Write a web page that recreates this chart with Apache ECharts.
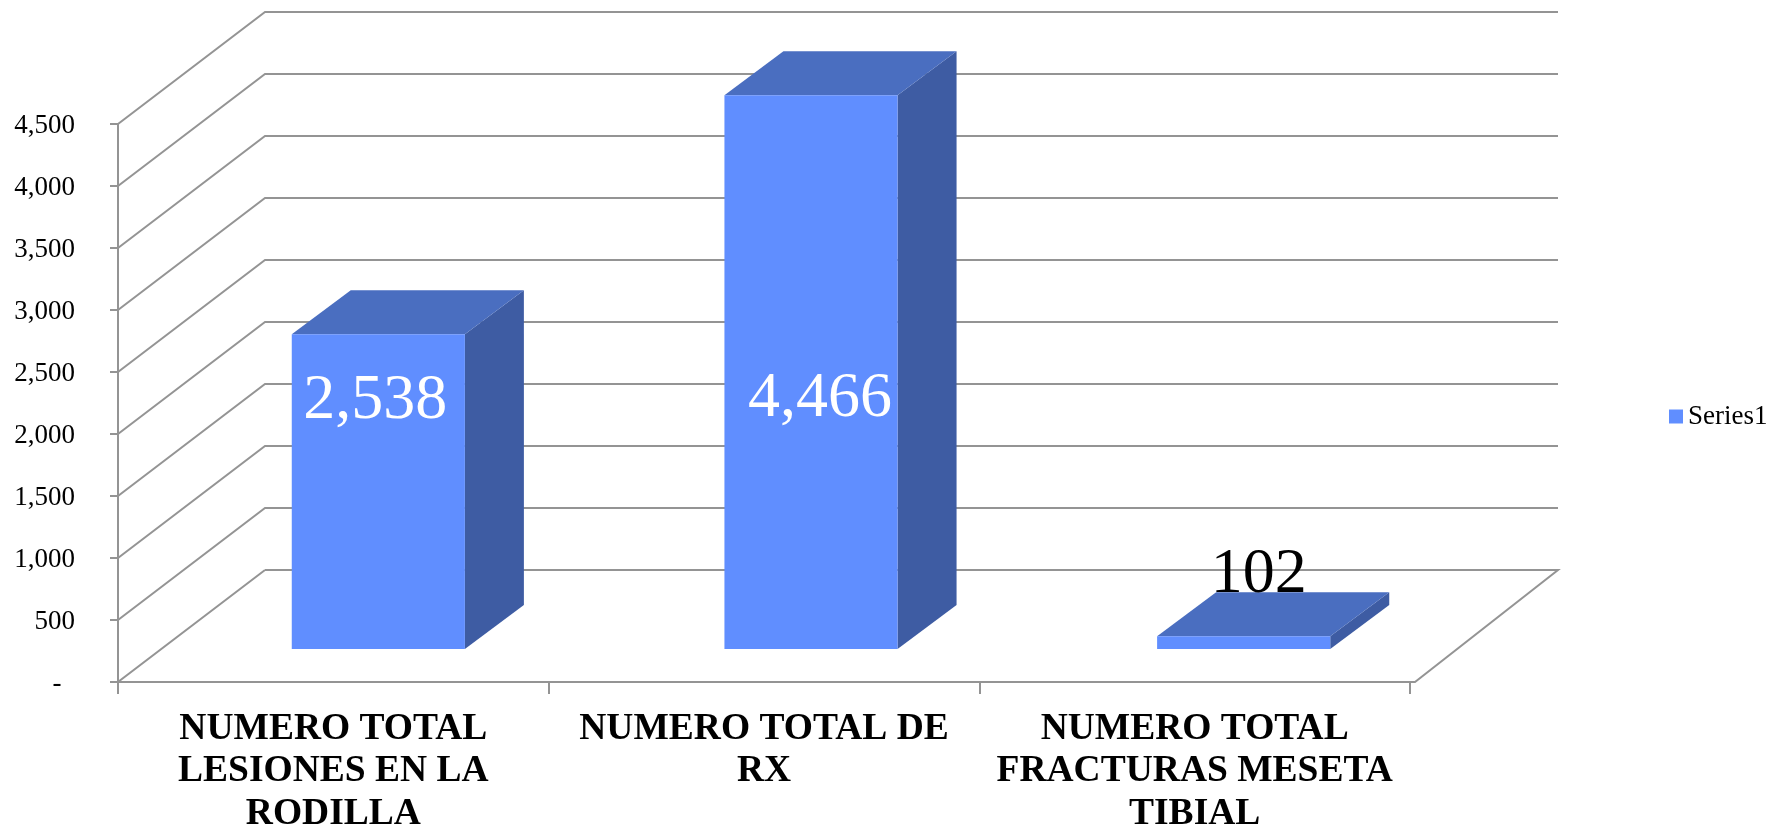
<!DOCTYPE html>
<html>
<head>
<meta charset="utf-8">
<style>html,body{margin:0;padding:0;background:#fff}#chart{width:1783px;height:827px}</style>
<script src="https://cdn.jsdelivr.net/npm/echarts@6/dist/echarts.min.js"></script>
</head>
<body>
<div id="chart"></div>
<script>
const categories = ['NUMERO TOTAL\nLESIONES EN LA\nRODILLA', 'NUMERO TOTAL DE\nRX', 'NUMERO TOTAL\nFRACTURAS MESETA\nTIBIAL'];
const seriesName = 'Series1';
const seriesValues = [2538, 4466, 102];
const gridTicks = [0, 500, 1000, 1500, 2000, 2500, 3000, 3500, 4000, 4500];

// 3D projection, in pixels
const WALL_DX = 147, WALL_DY = -112;   // front of floor -> back wall
const BAR_FRONT_DX = 45, BAR_FRONT_DY = -33; // front of floor -> bar front face
const BAR_DRIFT = 2;                   // extra horizontal shift per category
const BAR_DX = 59, BAR_DY = -44;       // bar depth
const FLOOR_RIGHT_EXTRA = 5;
const LABEL_NUDGE = [[-3, 67], [9, 304], [15, -61]]; // label centre relative to bar top-front centre
const SERIF = '"Liberation Serif","Times New Roman",serif';
const GRID_COLOR = '#949494';
const LINE_W = 2;
const FRONT = '#608eff', TOP = '#4a6ec0', SIDE = '#3e5ca3';

function fmt(v) { return v === 0 ? '-\u00a0\u00a0' : v.toLocaleString('en-US'); }

function renderGrid(params, api) {
  const v = api.value(0);
  const p = api.coord([0, v]);
  const sys = params.coordSys;
  const x0 = sys.x, xr = sys.x + sys.width, y = p[1];
  const line = v === 0
    ? [[x0 + WALL_DX, y + WALL_DY], [x0, y], [xr + FLOOR_RIGHT_EXTRA, y], [xr + FLOOR_RIGHT_EXTRA + 143, y + WALL_DY], [x0 + WALL_DX, y + WALL_DY]]
    : [[x0, y], [x0 + WALL_DX, y + WALL_DY], [xr + FLOOR_RIGHT_EXTRA + 143, y + WALL_DY]];
  return {
    type: 'polyline',
    shape: { points: line },
    style: { stroke: GRID_COLOR, lineWidth: LINE_W, fill: 'none' },
    silent: true
  };
}

function renderBar(params, api) {
  const i = api.value(0), v = api.value(1);
  const top = api.coord([i, v]), base = api.coord([i, 0]);
  const w = api.size([1, 0])[0] * 0.402;
  const cx = top[0] + BAR_FRONT_DX + i * BAR_DRIFT;
  const l = cx - w / 2, r = cx + w / 2;
  const t = top[1] + BAR_FRONT_DY, b = base[1] + BAR_FRONT_DY;
  const nudge = LABEL_NUDGE[i];
  const isLight = v > 1000;
  return {
    type: 'group',
    children: [
      { type: 'polygon', shape: { points: [[r, t], [r + BAR_DX, t + BAR_DY], [r + BAR_DX, b + BAR_DY], [r, b]] }, style: { fill: SIDE } },
      { type: 'polygon', shape: { points: [[l, t], [l + BAR_DX, t + BAR_DY], [r + BAR_DX, t + BAR_DY], [r, t]] }, style: { fill: TOP } },
      { type: 'rect', shape: { x: l, y: t, width: w, height: b - t }, style: { fill: FRONT } },
      { type: 'text', x: cx + nudge[0], y: t + nudge[1], style: {
          text: fmt(v), fill: isLight ? '#ffffff' : '#000000',
          font: '64px ' + SERIF, align: 'center', verticalAlign: 'middle' } }
    ]
  };
}

const chart = echarts.init(document.getElementById('chart'), null, { renderer: 'canvas' });
chart.setOption({
  animation: false,
  backgroundColor: '#ffffff',
  grid: { left: 118, top: 124, width: 1292, height: 558, outerBoundsMode: 'none' },
  legend: {
    data: [{ name: seriesName, icon: 'rect' }],
    left: 1664, top: 398, itemWidth: 14, itemHeight: 14, itemGap: 0,
    selectedMode: false,
    textStyle: { fontFamily: SERIF, fontSize: 27, color: '#000' }
  },
  xAxis: {
    type: 'category', data: categories, boundaryGap: true,
    axisLine: { lineStyle: { color: GRID_COLOR, width: LINE_W } },
    axisTick: { show: true, length: 12, alignWithLabel: false, lineStyle: { color: GRID_COLOR, width: LINE_W } },
    axisLabel: { interval: 0, margin: 26, fontFamily: SERIF, fontWeight: 'bold', fontSize: 37.5, lineHeight: 42.5, color: '#000', hideOverlap: false },
    splitLine: { show: false }
  },
  yAxis: {
    type: 'value', min: 0, max: 4500, interval: 500,
    axisLine: { show: true, lineStyle: { color: GRID_COLOR, width: LINE_W } },
    axisTick: { show: true, length: 8, lineStyle: { color: GRID_COLOR, width: LINE_W } },
    axisLabel: { margin: 43, verticalAlign: 'top', padding: [-11.5, 0, 0, 0], fontFamily: SERIF, fontSize: 27, color: '#000', formatter: fmt, showMinLabel: true, showMaxLabel: true },
    splitLine: { show: false }
  },
  series: [
    { name: 'grid', type: 'custom', coordinateSystem: 'cartesian2d', z: 1, silent: true,
      data: gridTicks.map(v => [v]), encode: { y: 0 }, renderItem: renderGrid },
    { name: seriesName, type: 'custom', coordinateSystem: 'cartesian2d', z: 3,
      itemStyle: { color: FRONT },
      data: seriesValues.map((v, i) => [i, v]), encode: { x: 0, y: 1 }, renderItem: renderBar }
  ]
});
</script>
</body>
</html>
